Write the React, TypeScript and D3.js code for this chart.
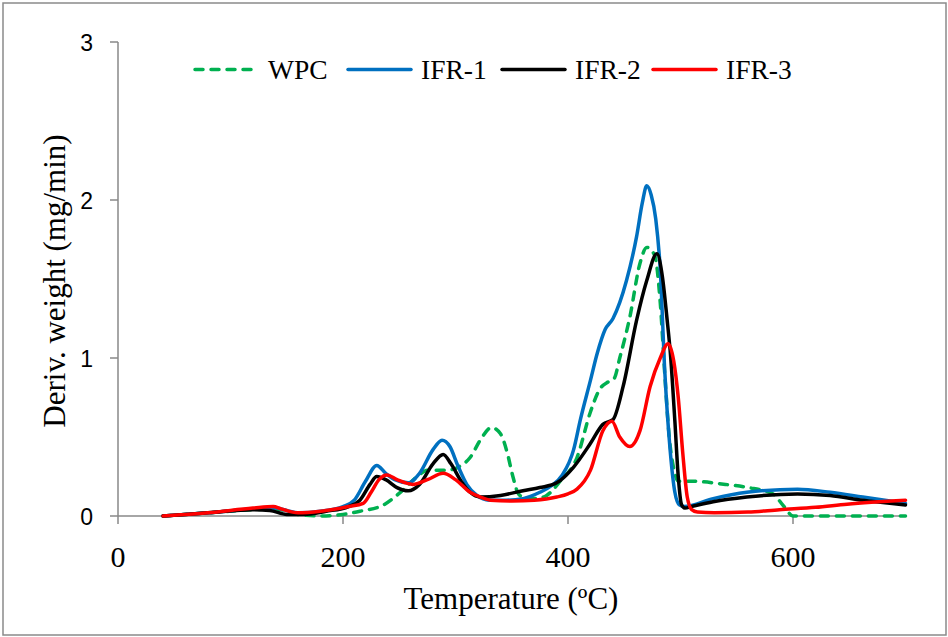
import React from "react";
import * as d3 from "d3";

// ---- Data (Temperature °C, Deriv. weight mg/min) ----
const wpcT = [40, 80, 120, 140, 160, 180, 200, 215, 236, 251, 266, 275, 292, 305, 313, 322, 332, 340, 346, 351, 356, 363, 372, 381, 393, 408, 420, 428, 436, 441, 446, 455, 464, 470, 477, 482, 486, 490, 494, 498, 510, 540, 560, 582, 592, 600, 700];
const wpcV = [0, 0.02, 0.04, 0.045, 0.01, 0.0, 0.01, 0.03, 0.07, 0.15, 0.25, 0.29, 0.29, 0.32, 0.37, 0.48, 0.56, 0.52, 0.4, 0.25, 0.14, 0.11, 0.11, 0.13, 0.22, 0.37, 0.66, 0.8, 0.85, 0.87, 1.0, 1.26, 1.6, 1.7, 1.65, 1.35, 0.9, 0.5, 0.3, 0.22, 0.22, 0.2, 0.18, 0.14, 0.06, 0.0, 0.0];

const ifr1T = [40, 80, 120, 140, 150, 160, 180, 200, 210, 220, 230, 238, 246, 258, 268, 280, 288, 295, 302, 310, 319, 330, 345, 360, 375, 385, 395, 405, 411, 420, 426, 433, 440, 452, 461, 466, 470, 474, 478, 482, 486, 491, 495, 499, 503, 529, 559, 604, 633, 662, 700];
const ifr1V = [0, 0.02, 0.045, 0.05, 0.035, 0.02, 0.03, 0.06, 0.1, 0.22, 0.32, 0.27, 0.23, 0.21, 0.27, 0.42, 0.48, 0.44, 0.32, 0.2, 0.13, 0.1, 0.1, 0.11, 0.15, 0.19, 0.26, 0.42, 0.61, 0.86, 1.03, 1.18, 1.25, 1.49, 1.77, 1.98, 2.09, 2.03, 1.88, 1.56, 0.92, 0.4, 0.15, 0.07, 0.06, 0.11, 0.15, 0.17, 0.15, 0.12, 0.08];

const ifr2T = [40, 80, 120, 135, 150, 165, 185, 205, 215, 224, 230, 238, 248, 258, 268, 280, 289, 296, 305, 313, 322, 340, 360, 375, 390, 405, 420, 431, 440, 449, 461, 470, 479, 484, 488, 491, 495, 498, 501, 504, 510, 529, 559, 604, 633, 662, 700];
const ifr2V = [0, 0.02, 0.04, 0.035, 0.01, 0.01, 0.03, 0.06, 0.1, 0.2, 0.25, 0.23, 0.18, 0.16, 0.2, 0.33, 0.39, 0.33, 0.22, 0.15, 0.12, 0.13, 0.16, 0.18, 0.21, 0.31, 0.46, 0.58, 0.61, 0.82, 1.24, 1.49, 1.66, 1.51, 1.25, 1.03, 0.6, 0.25, 0.07, 0.05, 0.06, 0.09, 0.12, 0.14, 0.13, 0.1, 0.07];

const ifr3T = [40, 80, 120, 138, 145, 160, 180, 205, 218, 225, 232, 239, 248, 262, 275, 289, 300, 313, 322, 331, 350, 370, 390, 400, 408, 420, 431, 439, 446, 455, 464, 473, 482, 489, 494, 498, 502, 506, 510, 515, 530, 560, 588, 620, 648, 700];
const ifr3V = [0, 0.02, 0.05, 0.06, 0.045, 0.02, 0.03, 0.06, 0.08, 0.15, 0.23, 0.26, 0.23, 0.2, 0.23, 0.27, 0.23, 0.15, 0.12, 0.1, 0.095, 0.1, 0.12, 0.14, 0.17, 0.29, 0.54, 0.6, 0.5, 0.44, 0.54, 0.82, 1.0, 1.09, 0.98, 0.75, 0.4, 0.12, 0.04, 0.025, 0.02, 0.025, 0.04, 0.055, 0.075, 0.1];

const seriesNames = ["WPC", "IFR-1", "IFR-2", "IFR-3"];
const seriesColors = ["#00B050", "#0070C0", "#000000", "#FF0000"];
const xTicks = [0, 200, 400, 600];
const yTicks = [0, 1, 2, 3];
const xTitle = "Temperature (ºC)";
const yTitle = "Deriv. weight (mg/min)";

export default function App() {
  const W = 948;
  const H = 637;
  const x = d3.scaleLinear().domain([0, 700]).range([118, 905.5]);
  const y = d3.scaleLinear().domain([0, 3]).range([516, 42]);

  const allT = [wpcT, ifr1T, ifr2T, ifr3T];
  const allV = [wpcV, ifr1V, ifr2V, ifr3V];

  const line = d3
    .line<[number, number]>()
    .x((d) => x(d[0]))
    .y((d) => y(d[1]))
    .curve(d3.curveMonotoneX);

  const paths = allT.map((ts, i) => line(ts.map((t, j) => [t, allV[i][j]] as [number, number])) || "");

  const serif = "'Liberation Serif', 'Times New Roman', serif";
  const sans = "'Liberation Sans', Arial, sans-serif";
  const axisColor = "#888888";

  // legend layout
  const legendY = 69.5;
  const legendStarts = [193, 346, 500, 651];
  const legendLineLen = 67;
  const legendGap = 8;

  return (
    <svg
      width={W}
      height={H}
      style={{ position: "absolute", left: 0, top: 0, background: "#fff" }}
    >
      <rect x={0} y={0} width={W} height={H} fill="#fff" />
      <rect x={3} y={3} width={943} height={632} fill="none" stroke="#8a8a8a" strokeWidth={1.5} />

      {/* axes */}
      <line x1={x(0)} y1={y(0)} x2={x(700)} y2={y(0)} stroke={axisColor} strokeWidth={1.5} />
      <line x1={x(0)} y1={y(0)} x2={x(0)} y2={y(3)} stroke={axisColor} strokeWidth={1.5} />
      {yTicks.map((t) => (
        <g key={"y" + t}>
          <line x1={x(0) - 8} x2={x(0)} y1={y(t)} y2={y(t)} stroke={axisColor} strokeWidth={1.5} />
          <text x={93} y={y(t) + 8.5} textAnchor="end" fontFamily={sans} fontSize={23} fill="#000">
            {t}
          </text>
        </g>
      ))}
      {xTicks.map((t) => (
        <g key={"x" + t}>
          <line x1={x(t)} x2={x(t)} y1={y(0)} y2={y(0) + 8} stroke={axisColor} strokeWidth={1.5} />
          <text x={x(t)} y={567} textAnchor="middle" fontFamily={serif} fontSize={30} fill="#000">
            {t}
          </text>
        </g>
      ))}

      {/* titles */}
      <text x={511} y={609} textAnchor="middle" fontFamily={serif} fontSize={31} fill="#000">
        {xTitle}
      </text>
      <text
        transform={`translate(65,281) rotate(-90)`}
        textAnchor="middle"
        fontFamily={serif}
        fontSize={31}
        fill="#000"
      >
        {yTitle}
      </text>

      {/* series */}
      {paths.map((p, i) => (
        <path
          key={seriesNames[i]}
          d={p}
          fill="none"
          stroke={seriesColors[i]}
          strokeWidth={3.5}
          strokeLinejoin="round"
          strokeLinecap="round"
          strokeDasharray={i === 0 ? "8 8" : undefined}
        />
      ))}

      {/* legend */}
      {seriesNames.map((n, i) => (
        <g key={"lg" + n}>
          <line
            x1={legendStarts[i] + 2}
            x2={legendStarts[i] + legendLineLen - 2}
            y1={legendY}
            y2={legendY}
            stroke={seriesColors[i]}
            strokeWidth={3.5}
            strokeLinecap="round"
            strokeDasharray={i === 0 ? "8 8" : undefined}
          />
          <text
            x={legendStarts[i] + legendLineLen + legendGap}
            y={79}
            fontFamily={serif}
            fontSize={27.5}
            fill="#000"
          >
            {n}
          </text>
        </g>
      ))}
    </svg>
  );
}
